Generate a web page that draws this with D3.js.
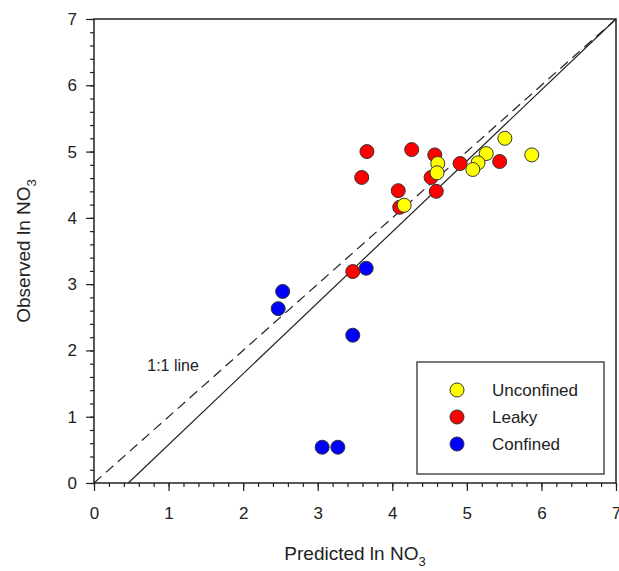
<!DOCTYPE html>
<html>
<head>
<meta charset="utf-8">
<script src="https://cdn.jsdelivr.net/npm/d3@7"></script>
<style>
  body { margin: 0; background: #fff; }
  text { font-family: "Liberation Sans", Arial, sans-serif; fill: #222; }
</style>
</head>
<body>
<div id="chart"></div>
<script>
"use strict";
(function(){
    // values (predicted, observed)
    const unconfinedX = [5.87, 5.51, 5.26, 5.15, 5.08, 4.61, 4.60, 4.16]
    const unconfinedY = [4.95, 5.20, 4.97, 4.83, 4.73, 4.82, 4.68, 4.19]
    const leakyX = [3.66, 4.26, 4.57, 3.59, 4.91, 5.44, 4.52, 4.59, 4.08, 4.10, 3.47]
    const leakyY = [5.00, 5.03, 4.95, 4.61, 4.82, 4.85, 4.61, 4.40, 4.41, 4.16, 3.19]
    const confinedX = [3.65, 2.53, 2.47, 3.47, 3.06, 3.27]
    const confinedY = [3.24, 2.89, 2.63, 2.23, 0.54, 0.54]

    const groups = ["Unconfined", "Leaky", "Confined"]
    const groupColors = ["#ffff00", "#ff0000", "#0000ff"]
    const majorTicks = [0, 1, 2, 3, 4, 5, 6, 7]
    // regression line end points (x, y)
    const fitLine = [[0.46, 0], [7, 7]]
    const oneToOne = [[0, 0], [7, 7]]

    const measurements = {
        width: 619,
        height: 571,
        left: 94,
        right: 616,
        top: 19,
        bottom: 483
    }

    const color = d3.scaleOrdinal().domain(groups).range(groupColors)

    const svg = d3.select("#chart").append("svg")
        .attr("width", measurements.width)
        .attr("height", measurements.height)

    const scaleX = d3.scaleLinear().domain([0, 7]).range([measurements.left, measurements.right])
    const scaleY = d3.scaleLinear().domain([0, 7]).range([measurements.bottom, measurements.top])

    const minorTicks = d3.range(0, 7.001, 0.2).map(d => Math.round(d * 10) / 10)

    // minor ticks
    svg.append("g")
        .attr("transform", "translate(0," + measurements.bottom + ")")
        .call(d3.axisBottom(scaleX).tickValues(minorTicks).tickSize(4).tickFormat(""))
    svg.append("g")
        .attr("transform", "translate(" + measurements.left + ",0)")
        .call(d3.axisLeft(scaleY).tickValues(minorTicks).tickSize(4).tickFormat(""))

    // major ticks and labels
    svg.append("g")
        .attr("transform", "translate(0," + measurements.bottom + ")")
        .call(d3.axisBottom(scaleX).tickValues(majorTicks).tickSize(8).tickPadding(16).tickFormat(d3.format("d")))
    svg.append("g")
        .attr("transform", "translate(" + measurements.left + ",0)")
        .call(d3.axisLeft(scaleY).tickValues(majorTicks).tickSize(8).tickPadding(9).tickFormat(d3.format("d")))

    svg.selectAll(".domain").remove()
    svg.selectAll(".tick line").attr("stroke", "#222").attr("stroke-width", 1.2)
    svg.selectAll(".tick text").style("font-size", "17px").attr("fill", "#222")
        .style("font-family", "'Liberation Sans', Arial, sans-serif")

    // frame
    svg.append("rect")
        .attr("x", measurements.left)
        .attr("y", measurements.top)
        .attr("width", measurements.right - measurements.left)
        .attr("height", measurements.bottom - measurements.top)
        .attr("fill", "none")
        .attr("stroke", "#222")
        .attr("stroke-width", 1.5)

    const line = d3.line().x(d => scaleX(d[0])).y(d => scaleY(d[1]))

    svg.append("path")
        .attr("d", line(oneToOne))
        .attr("fill", "none")
        .attr("stroke", "#222")
        .attr("stroke-width", 1.2)
        .attr("stroke-dasharray", "10,6")

    svg.append("path")
        .attr("d", line(fitLine))
        .attr("fill", "none")
        .attr("stroke", "#222")
        .attr("stroke-width", 1.2)

    svg.append("text")
        .attr("x", scaleX(1.06))
        .attr("y", scaleY(1.78) + 6)
        .style("text-anchor", "middle")
        .style("font-size", "16px")
        .text("1:1 line")

    // points: leaky first, unconfined over it, confined on top
    const toPoints = (xs, ys, g) => xs.map((x, i) => ({ x: x, y: ys[i], group: g }))
    const drawOrder = [
        toPoints(leakyX, leakyY, "Leaky"),
        toPoints(unconfinedX, unconfinedY, "Unconfined"),
        toPoints(confinedX, confinedY, "Confined")
    ]
    drawOrder.forEach(function(pts) {
        svg.append("g").selectAll("circle")
            .data(pts)
            .enter()
            .append("circle")
            .attr("cx", d => scaleX(d.x))
            .attr("cy", d => scaleY(d.y))
            .attr("r", 7)
            .attr("fill", d => color(d.group))
            .attr("stroke", "#333")
            .attr("stroke-width", 1)
    })

    // legend
    svg.append("rect")
        .attr("x", 417)
        .attr("y", 362)
        .attr("width", 187)
        .attr("height", 112)
        .attr("fill", "#fff")
        .attr("stroke", "#333")
        .attr("stroke-width", 1.3)

    const legend = svg.selectAll(".legend")
        .data(groups)
        .enter().append("g")
        .attr("class", "legend")
        .attr("transform", (d, i) => "translate(457," + (390 + i * 27) + ")")

    legend.append("circle")
        .attr("r", 7)
        .attr("fill", d => color(d))
        .attr("stroke", "#333")
        .attr("stroke-width", 1)

    legend.append("text")
        .attr("x", 35)
        .attr("dy", "0.35em")
        .style("font-size", "17px")
        .text(d => d)

    // axis titles
    const xTitle = svg.append("text")
        .attr("x", (measurements.left + measurements.right) / 2)
        .attr("y", 560)
        .style("text-anchor", "middle")
        .style("font-size", "19px")
    xTitle.append("tspan").text("Predicted ln NO")
    xTitle.append("tspan").attr("dy", 6).style("font-size", "13px").text("3")

    const yTitle = svg.append("text")
        .attr("transform", "translate(30," + ((measurements.top + measurements.bottom) / 2) + ") rotate(-90)")
        .style("text-anchor", "middle")
        .style("font-size", "19px")
    yTitle.append("tspan").text("Observed ln NO")
    yTitle.append("tspan").attr("dy", 6).style("font-size", "13px").text("3")
})()
</script>
</body>
</html>
